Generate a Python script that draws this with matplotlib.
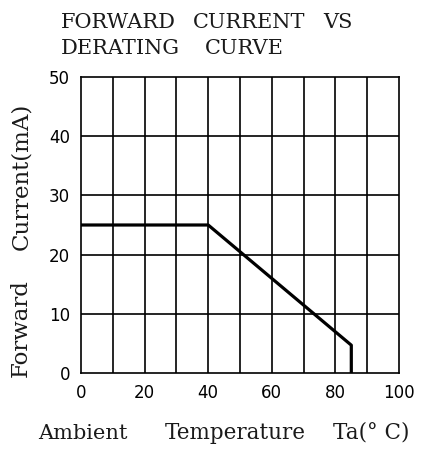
import matplotlib.pyplot as plt

# derating curve points
temp = [0, 40, 85, 85]
current = [25, 25, 4.7, 0]

x_ticks = [0, 20, 40, 60, 80, 100]
y_ticks = [0, 10, 20, 30, 40, 50]

W, H = 422, 450
fig = plt.figure(figsize=(W / 100, H / 100), dpi=100)
ax = fig.add_axes([81 / W, 1 - 373 / H, 318 / W, 296 / H])

for v in range(10, 100, 10):
    ax.axvline(v, color='black', lw=1.2, zorder=1)
for v in range(10, 50, 10):
    ax.axhline(v, color='black', lw=1.2, zorder=1)

ax.plot(temp, current, color='black', lw=2.3, zorder=3)

ax.set_xlim(0, 100)
ax.set_ylim(0, 50)
ax.set_xticks(x_ticks)
ax.set_yticks(y_ticks)
ax.tick_params(length=0, labelsize=12, pad=8)
for s in ax.spines.values():
    s.set_linewidth(1.2)


def word(px, py, s, size, rot=0):
    # place a word by its baseline start, in pixels from top-left
    fig.text(px / W, 1 - py / H, s, family='DejaVu Serif', fontsize=size,
             ha='left', va='baseline', rotation=rot,
             rotation_mode='anchor', color='#1a1a1a')


# title
word(61, 28, 'FORWARD', 15)
word(193, 28, 'CURRENT', 15)
word(323, 28, 'VS', 15)
word(61, 54, 'DERATING', 15)
word(205, 54, 'CURVE', 15)

# x label
word(38, 439, 'Ambient', 15)
word(165, 439, 'Temperature', 15.5)
word(333, 439, 'Ta(° C)', 15.5)

# y label
word(27, 377, 'Forward', 16.5, rot=90)
word(27, 250, 'Current(mA)', 16.5, rot=90)

fig.savefig('out.png', dpi=100)
